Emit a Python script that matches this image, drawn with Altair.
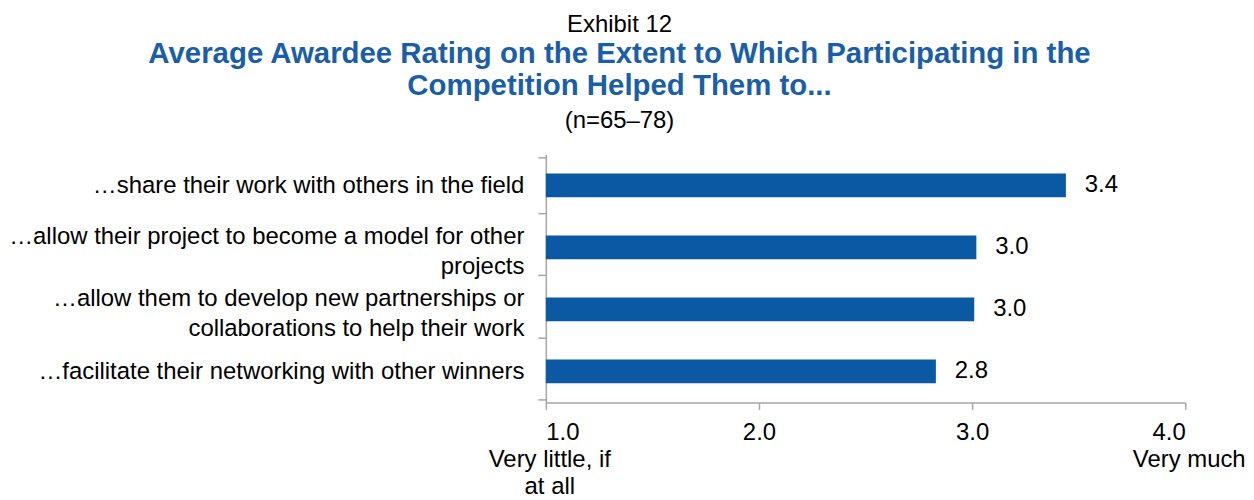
import altair as alt
import pandas as pd

categories = [
    "…share their work with others in the field",
    "…allow their project to become a model for other\nprojects",
    "…allow them to develop new partnerships or\ncollaborations to help their work",
    "…facilitate their networking with other winners",
]
values = [3.44, 3.02, 3.01, 2.83]
scale_ticks = [1, 2, 3, 4]
end_values = [1, 4]
end_labels = ["Very little, if\nat all", "Very much"]

FONT = "Liberation Sans"
BLUE = "#0b58a3"
TITLE_BLUE = "#1a5ea8"
GRAY = "#a6a6a6"
W, H = 642, 249

df = pd.DataFrame({"item": categories, "rating": values})
ends = pd.DataFrame({"v": end_values, "label": end_labels})

x_scale = alt.Scale(domain=[1, 4], nice=False, zero=False)

bars = alt.Chart(df).mark_bar(color=BLUE, size=24).encode(
    y=alt.Y(
        "item:N",
        sort=categories,
        title=None,
        axis=alt.Axis(
            labelExpr="split(datum.label, '\\n')",
            labelFont=FONT,
            labelFontSize=24,
            labelColor="black",
            labelLineHeight=30,
            labelOffset=alt.condition(
                "indexof(datum.label, '\\n') >= 0", alt.value(-11), alt.value(0)
            ),
            labelPadding=14,
            labelLimit=800,
            tickSize=8,
            tickColor=GRAY,
            tickWidth=1.5,
            domainColor=GRAY,
            domainWidth=1.5,
            tickBand="extent",
        ),
    ),
    x=alt.X(
        "rating:Q",
        scale=x_scale,
        title=None,
        axis=alt.Axis(
            values=scale_ticks,
            format=".1f",
            grid=False,
            labelFont=FONT,
            labelFontSize=24,
            labelColor="black",
            labelPadding=11,
            tickSize=7,
            tickColor=GRAY,
            tickWidth=1.5,
            domainColor=GRAY,
            domainWidth=1.5,
        ),
    ),
    x2=alt.datum(1),
)

value_text = alt.Chart(df).mark_text(
    align="left", baseline="middle", dx=19, font=FONT, fontSize=24, color="black"
).encode(
    y=alt.Y("item:N", sort=categories),
    x=alt.X("rating:Q", scale=x_scale),
    text=alt.Text("rating:Q", format=".1f"),
)

end_text = alt.Chart(ends).mark_text(
    align="center", baseline="alphabetic", font=FONT, fontSize=24,
    color="black", lineBreak="\n", lineHeight=27, dx=4
).encode(
    x=alt.X("v:Q", scale=x_scale),
    y=alt.value(H + 65),
    text="label:N",
)

n_text = alt.Chart(pd.DataFrame({"t": ["(n=65–78)"]})).mark_text(
    align="center", baseline="alphabetic", font=FONT, fontSize=24, color="black"
).encode(
    x=alt.value(74),
    y=alt.value(-27),
    text="t:N",
)

chart = alt.layer(bars, value_text, end_text, n_text).properties(
    width=W,
    height=H,
    background="white",
    padding={"left": 0, "top": 4, "right": 0, "bottom": 0},
    title=alt.TitleParams(
        text="Exhibit 12",
        subtitle=[
            "Average Awardee Rating on the Extent to Which Participating in the",
            "Competition Helped Them to...",
        ],
        frame="group",
        anchor="middle",
        dx=-247,
        font=FONT,
        fontSize=24,
        fontWeight="normal",
        color="black",
        subtitleFont=FONT,
        subtitleFontSize=29.5,
        subtitleFontWeight="bold",
        subtitleColor=TITLE_BLUE,
        subtitleLineHeight=32,
        subtitlePadding=3,
        offset=8,
    ),
).configure_view(stroke="transparent", strokeWidth=0)

chart.save("out.html", embed_options={"renderer": "svg", "actions": False})
